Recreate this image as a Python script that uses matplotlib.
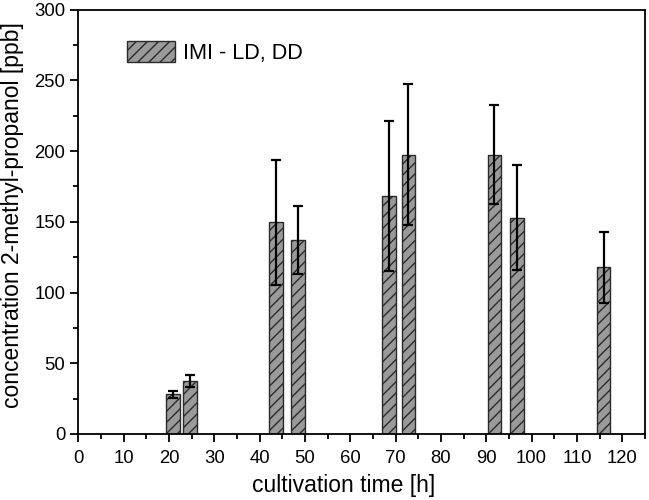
import matplotlib
matplotlib.use("Agg")
import matplotlib.pyplot as plt
from matplotlib.ticker import MultipleLocator

plt.rcParams['font.family'] = ['Liberation Sans', 'DejaVu Sans']
plt.rcParams['hatch.linewidth'] = 1.0

time_h = [20.9, 24.6, 43.6, 48.5, 68.6, 72.8, 91.8, 96.8, 115.9]
conc = [28.2, 37.7, 149.5, 137.0, 168.0, 197.5, 197.5, 153.0, 117.8]
err = [2.5, 4.3, 44.0, 24.0, 53.0, 50.0, 35.0, 37.0, 25.0]
label = "IMI - LD, DD"

fig = plt.figure(figsize=(6.49, 5.0), dpi=100)
ax = fig.add_axes([0.1207, 0.132, 0.873, 0.849])

ax.bar(time_h, conc, width=3.0, color='#9a9a9a', edgecolor='#2a2a2a',
       linewidth=1.0, hatch='///', label=label, zorder=2)
ax.errorbar(time_h, conc, yerr=err, fmt='none', ecolor='black',
            elinewidth=1.6, capsize=3.6, capthick=1.6, zorder=3)

ax.set_xlim(0, 125)
ax.set_ylim(0, 300)
ax.xaxis.set_major_locator(MultipleLocator(10))
ax.xaxis.set_minor_locator(MultipleLocator(5))
ax.yaxis.set_major_locator(MultipleLocator(50))
ax.yaxis.set_minor_locator(MultipleLocator(25))
ax.tick_params(which='major', direction='out', length=6, width=1.3, labelsize=13.3)
ax.tick_params(axis='x', which='major', pad=5.8)
ax.tick_params(which='minor', direction='out', length=3.5, width=1.3)
for s in ax.spines.values():
    s.set_linewidth(1.3)

ax.set_xlabel("cultivation time [h]", fontsize=16.5, labelpad=5, x=0.469)
ax.set_ylabel("concentration 2-methyl-propanol [ppb]", fontsize=16.5, labelpad=7, y=0.516)

leg = ax.legend(loc='upper left', frameon=False, fontsize=15.6,
                handlelength=2.25, handleheight=1.15, handletextpad=0.35,
                bbox_to_anchor=(0.051, 0.972))

fig.savefig("out.png", dpi=100)
